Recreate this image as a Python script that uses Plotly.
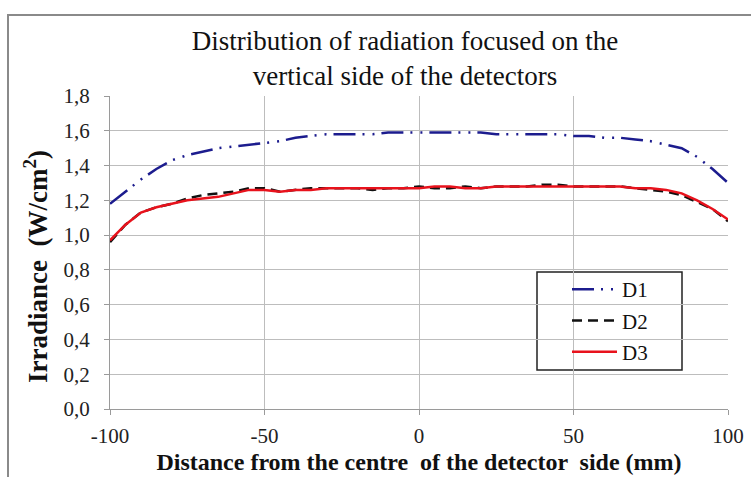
import plotly.graph_objects as go

# Position along the detector side (mm)
distance_mm = [-100, -95, -90, -85, -80, -75, -70, -65, -60, -55, -50, -45, -40, -35, -30,
               -25, -20, -15, -10, -5, 0, 5, 10, 15, 20, 25, 30, 35, 40, 45, 50, 55, 60,
               65, 70, 75, 80, 85, 90, 95, 100]

# Irradiance (W/cm2) for each detector
d1 = [1.18, 1.25, 1.32, 1.38, 1.43, 1.46, 1.48, 1.50, 1.51, 1.52, 1.53, 1.54, 1.56, 1.57, 1.58,
      1.58, 1.58, 1.58, 1.59, 1.59, 1.59, 1.59, 1.59, 1.59, 1.59, 1.58, 1.58, 1.58, 1.58, 1.58,
      1.57, 1.57, 1.56, 1.56, 1.55, 1.54, 1.52, 1.50, 1.45, 1.38, 1.30]
d2 = [0.96, 1.06, 1.13, 1.16, 1.18, 1.21, 1.23, 1.24, 1.25, 1.27, 1.27, 1.25, 1.26, 1.27, 1.27,
      1.27, 1.27, 1.26, 1.27, 1.27, 1.28, 1.27, 1.27, 1.28, 1.27, 1.28, 1.28, 1.28, 1.29, 1.29,
      1.28, 1.28, 1.28, 1.28, 1.27, 1.26, 1.25, 1.23, 1.19, 1.15, 1.08]
d3 = [0.97, 1.06, 1.13, 1.16, 1.18, 1.20, 1.21, 1.22, 1.24, 1.26, 1.26, 1.25, 1.26, 1.26, 1.27,
      1.27, 1.27, 1.27, 1.27, 1.27, 1.27, 1.28, 1.28, 1.27, 1.27, 1.28, 1.28, 1.28, 1.28, 1.28,
      1.28, 1.28, 1.28, 1.28, 1.27, 1.27, 1.26, 1.24, 1.20, 1.15, 1.09]

x_ticks = [-100, -50, 0, 50, 100]
x_tick_text = ["-100", "-50", "0", "50", "100"]
y_ticks = [0.0, 0.2, 0.4, 0.6, 0.8, 1.0, 1.2, 1.4, 1.6, 1.8]

SERIF = "Liberation Serif"

fig = go.Figure()
fig.add_trace(go.Scatter(x=distance_mm, y=d1, mode="lines", name="D1", legendgroup="a",
                         line=dict(color="#1c1c8e", width=2.5, dash="22px,7px,2px,8px,2px,7px")))
fig.add_trace(go.Scatter(x=distance_mm, y=d2, mode="lines", name="D2", legendgroup="b",
                         line=dict(color="#111111", width=2.5, dash="10px,6px")))
fig.add_trace(go.Scatter(x=distance_mm, y=d3, mode="lines", name="D3", legendgroup="c",
                         line=dict(color="#e8121c", width=2.5)))

W, H = 751, 477
L, R, T, B = 110, 23, 96, 68
pw, ph = W - L - R, H - T - B


def px_x(p):
    return (p - L) / pw


def px_y(p):
    return (H - B - p) / ph


fig.update_layout(
    width=W, height=H,
    margin=dict(l=L, r=R, t=T, b=B),
    paper_bgcolor="white", plot_bgcolor="white",
    separators=",.",
    font=dict(family=SERIF, color="#222222"),
    title=dict(text="Distribution of radiation focused on the<br>vertical side of the detectors",
               x=405 / W, xanchor="center", y=1 - 50 / H, yanchor="top",
               font=dict(size=27, family=SERIF, color="#111111")),
    xaxis=dict(range=[-100, 100], tickvals=x_ticks, ticktext=x_tick_text, showgrid=True,
               gridcolor="#bdbdbd", gridwidth=1, zeroline=False, showline=True,
               linecolor="#9a9a9a", ticks="outside", ticklen=5, tickcolor="#9a9a9a",
               ticklabelstandoff=3, automargin=False,
               tickfont=dict(size=21, family=SERIF, color="#222222"),
               title=dict(text="<b>Distance from the centre  of the detector  side (mm)</b>",
                          font=dict(size=24, family=SERIF, color="#111111"), standoff=5)),
    yaxis=dict(range=[0, 1.8], tickvals=y_ticks, tickformat=".1f", showgrid=True,
               gridcolor="#bdbdbd", gridwidth=1, zeroline=False, showline=True,
               linecolor="#9a9a9a", ticks="outside", ticklen=5, tickcolor="#9a9a9a",
               ticklabelstandoff=10, automargin=False,
               tickfont=dict(size=21, family=SERIF, color="#222222")),
    legend=dict(x=px_x(567), y=px_y(269), xanchor="left", yanchor="top",
                bgcolor="rgba(0,0,0,0)", borderwidth=0, itemwidth=45,
                tracegroupgap=1, font=dict(size=21, family=SERIF, color="#111111")),
    annotations=[
        dict(text="<b>Irradiance  (W/cm<sup>2</sup>)</b>", textangle=-90,
             xref="paper", yref="paper", x=px_x(36), y=px_y(267),
             xanchor="center", yanchor="middle", showarrow=False,
             font=dict(size=27, family=SERIF, color="#111111")),
    ],
    shapes=[
        # legend frame
        dict(type="rect", xref="paper", yref="paper",
             x0=px_x(537), x1=px_x(682), y0=px_y(370), y1=px_y(272),
             line=dict(color="#222222", width=1.5), fillcolor="white", layer="below"),
        # outer chart border
        dict(type="rect", xref="paper", yref="paper",
             x0=px_x(8), x1=px_x(760), y0=px_y(500), y1=px_y(15),
             line=dict(color="#8a8a8a", width=2), fillcolor="rgba(0,0,0,0)"),
    ],
)

fig.write_html("out.html")
